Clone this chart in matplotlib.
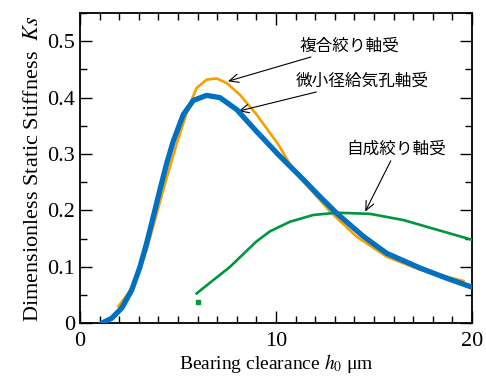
import matplotlib
matplotlib.use("Agg")
import matplotlib.pyplot as plt
from matplotlib.ticker import MultipleLocator

# data
# 微小径給気孔軸受 (blue)
blue_x = [1.1, 1.62, 2.13, 2.64, 3.06, 3.40, 3.74, 4.08, 4.42, 4.76, 5.27, 5.78, 6.46, 7.14, 7.99, 9.01, 10.12, 11.39, 12.2, 13.1, 14.46, 15.65, 17.35, 18.7, 20.0]
blue_y = [0.0, 0.009, 0.027, 0.059, 0.100, 0.142, 0.189, 0.237, 0.283, 0.323, 0.370, 0.395, 0.404, 0.400, 0.379, 0.340, 0.299, 0.255, 0.226, 0.195, 0.154, 0.124, 0.098, 0.080, 0.064]

# 複合絞り軸受 (orange)
orange_x = [1.96, 2.5, 2.98, 3.4, 3.8, 4.4, 4.93, 5.53, 5.95, 6.46, 6.97, 7.48, 8.16, 9.01, 10.12, 10.88, 12.76, 14.1, 15.65, 17.35, 19.56]
orange_y = [0.030, 0.055, 0.088, 0.130, 0.180, 0.255, 0.318, 0.382, 0.417, 0.432, 0.434, 0.426, 0.405, 0.370, 0.317, 0.272, 0.198, 0.154, 0.118, 0.095, 0.075]

# 自成絞り軸受 (green)
green_x = [5.95, 7.65, 9.0, 9.69, 10.71, 11.9, 13.1, 14.8, 16.5, 18.2, 20.0]
green_y = [0.053, 0.100, 0.145, 0.163, 0.180, 0.192, 0.196, 0.194, 0.183, 0.166, 0.148]
green_dot_x = [6.0]
green_dot_y = [0.037]

labels = ["複合絞り軸受", "微小径給気孔軸受", "自成絞り軸受"]

plt.rcParams["font.family"] = ["Liberation Serif", "DejaVu Serif"]
plt.rcParams["mathtext.fontset"] = "stix"

fig = plt.figure(figsize=(4.86, 3.78), dpi=100)
ax = fig.add_axes([0.1646, 0.1447, 0.8066, 0.8209])

ax.plot(orange_x, orange_y, color="#F5A000", lw=1.9, zorder=2)
ax.plot(green_x, green_y, color="#00963C", lw=1.9, zorder=3)
ax.plot(green_dot_x, green_dot_y, "s", color="#00963C", ms=2.5, zorder=3)
ax.plot(blue_x, blue_y, color="#0070C0", lw=3.8, solid_capstyle="round",
        solid_joinstyle="round", zorder=4)

ax.set_xlim(0, 20)
ax.set_ylim(0, 0.55)
ax.xaxis.set_major_locator(MultipleLocator(10))
ax.xaxis.set_minor_locator(MultipleLocator(1))
ax.yaxis.set_minor_locator(MultipleLocator(0.05))
ax.set_yticks([0, 0.1, 0.2, 0.3, 0.4, 0.5])
ax.set_yticklabels(["0", "0.1", "0.2", "0.3", "0.4", "0.5"])
ax.tick_params(which="both", direction="in", top=True, right=True, labelsize=16, width=1)
ax.tick_params(which="major", length=8.5)
ax.tick_params(which="minor", length=5)
ax.tick_params(axis="x", pad=6)
for s in ax.spines.values():
    s.set_linewidth(1.3)

ax.set_xlabel("Bearing clearance $h_0$ μm", fontsize=14, labelpad=1)
ax.set_ylabel("Dimensionless Static Stiffness  $Ks$", fontsize=16, labelpad=3)

jp = dict(fontsize=12, family=["Noto Sans CJK JP", "DejaVu Sans"], ha="left", va="center")
arrow = dict(arrowstyle="->,head_length=0.55,head_width=0.25", color="black",
             lw=0.8, shrinkA=0, shrinkB=0)
ax.annotate(labels[0], xy=(7.55, 0.429), xytext=(11.2, 0.492), arrowprops=arrow, **jp)
ax.annotate(labels[1], xy=(8.08, 0.376), xytext=(11.0, 0.430), arrowprops=arrow, **jp)
ax.annotate(labels[2], xy=(14.55, 0.198), xytext=(13.6, 0.308), arrowprops=arrow, **jp)

fig.savefig("out.png", dpi=100)
